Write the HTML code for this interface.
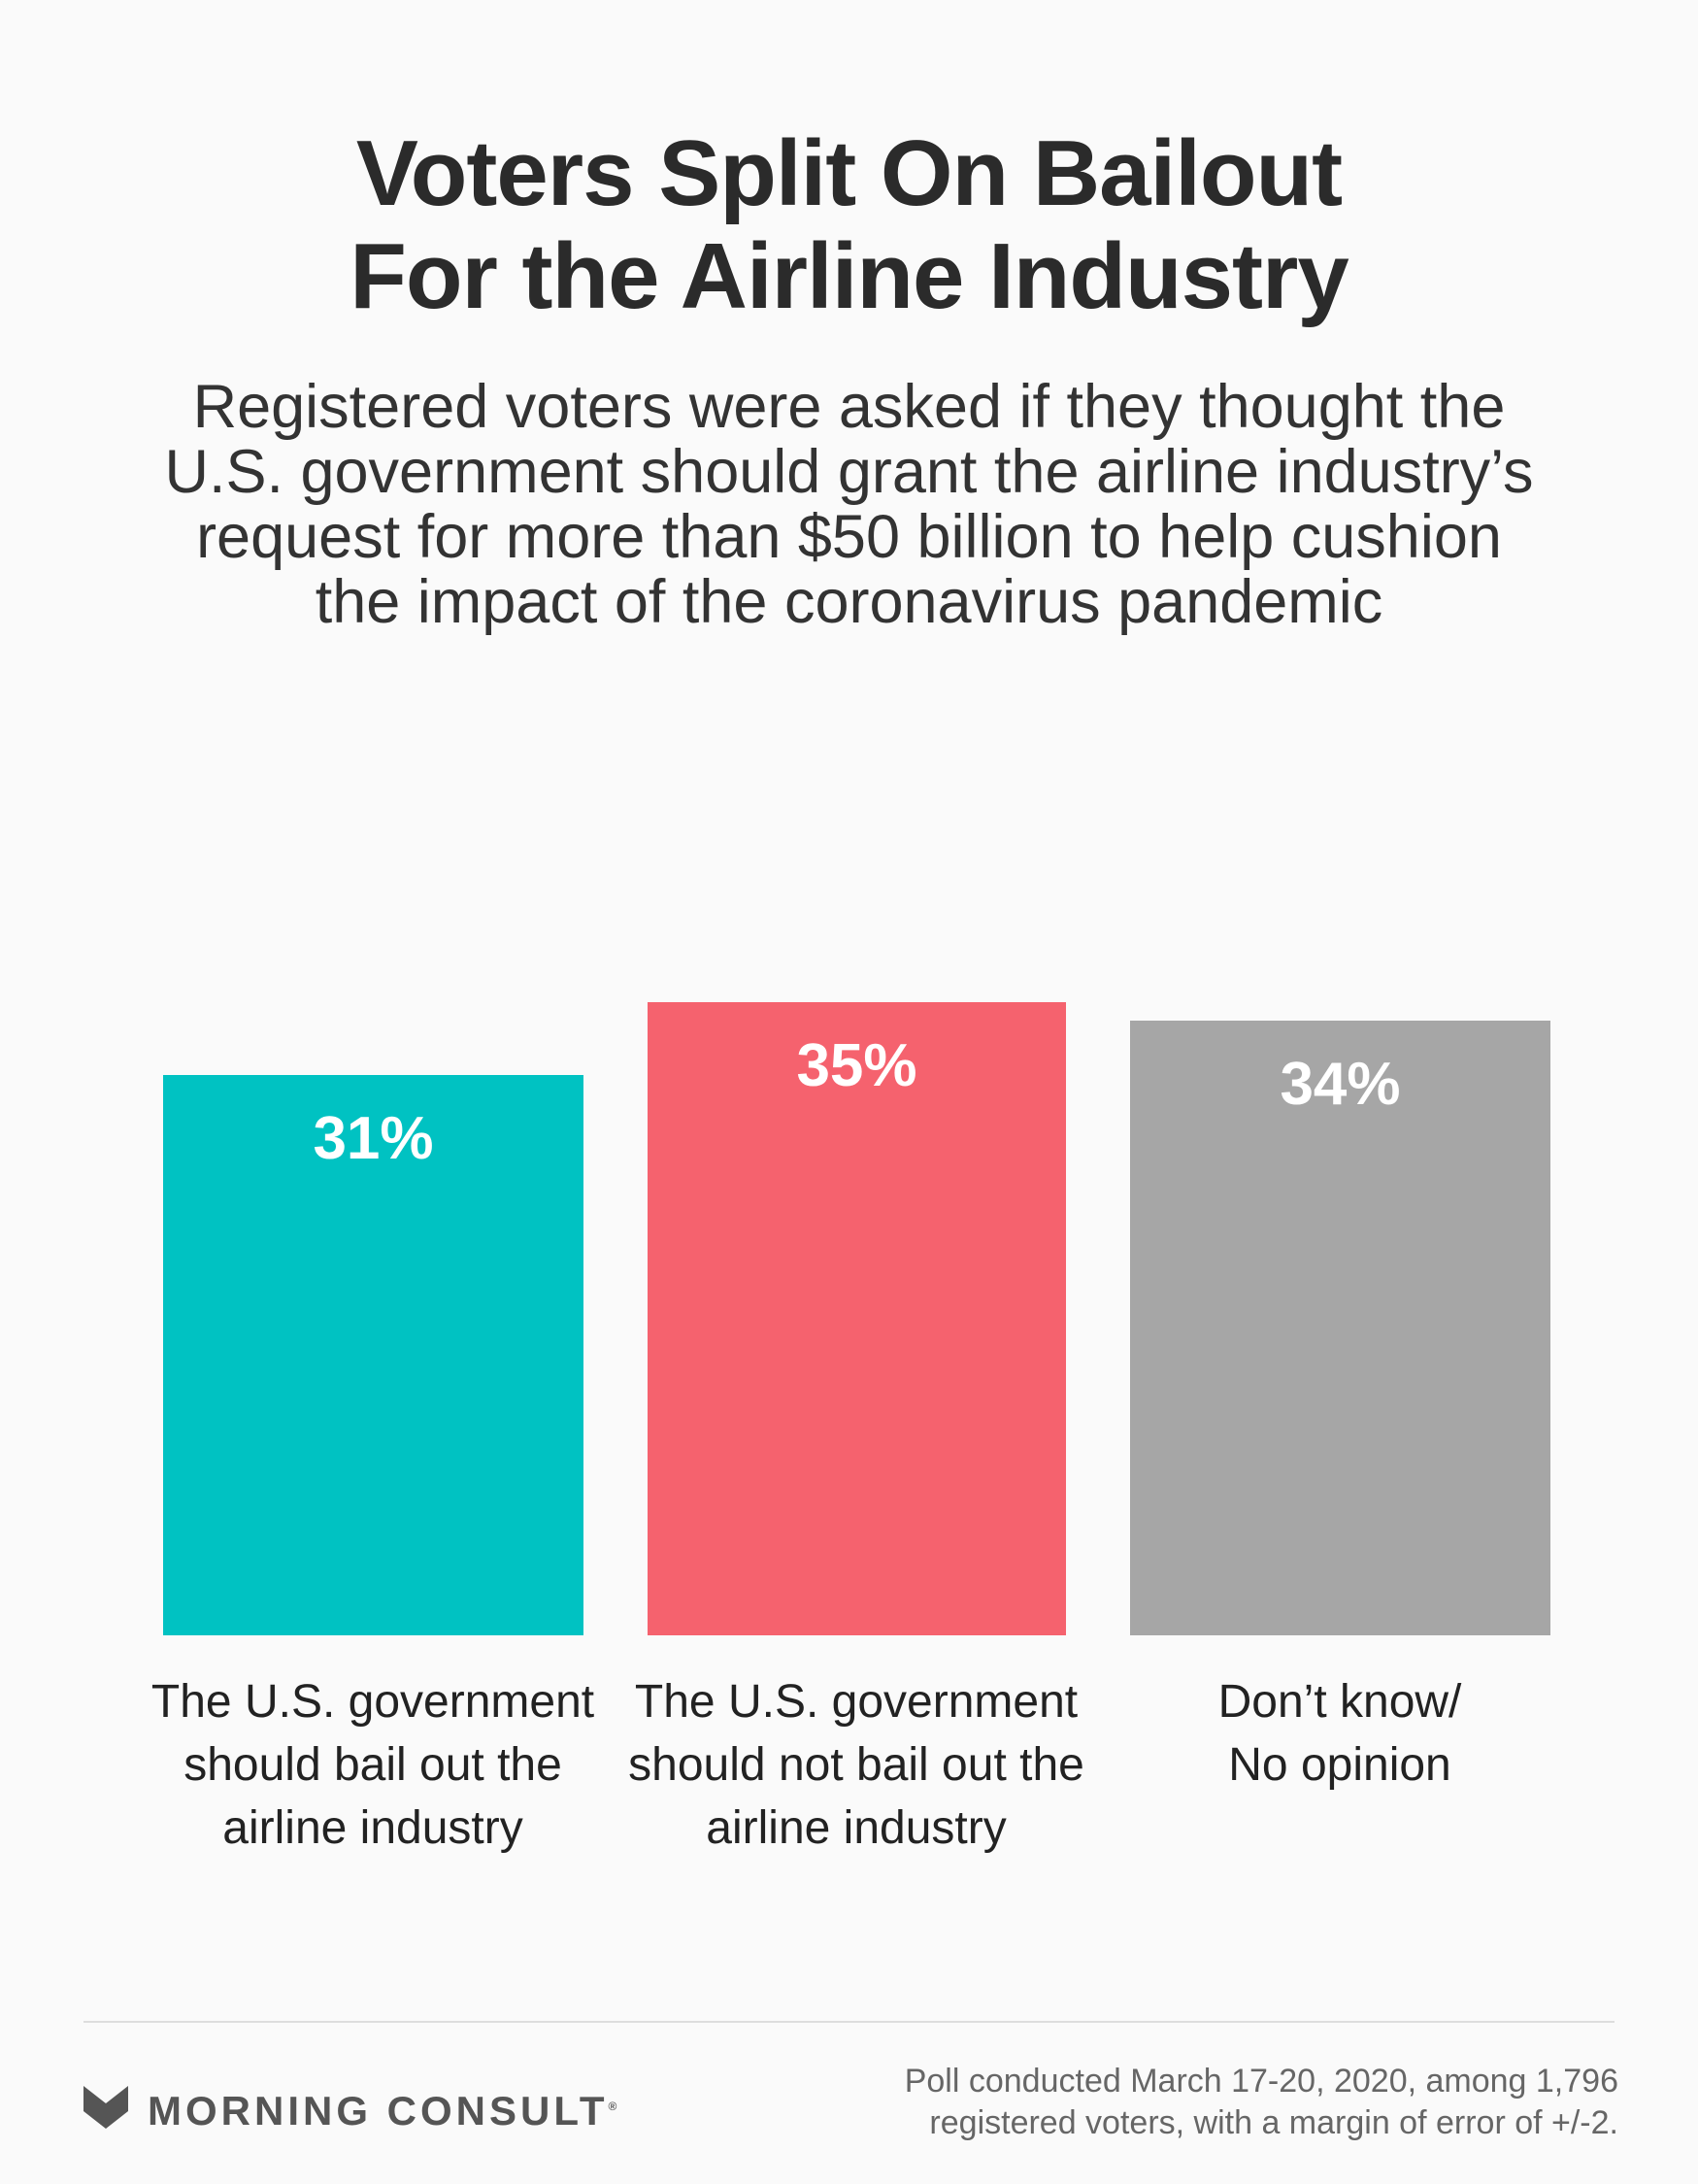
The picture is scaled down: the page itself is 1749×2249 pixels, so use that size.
<!DOCTYPE html>
<html><head><meta charset="utf-8"><style>
body{margin:0;width:1749px;height:2249px;background:#fafafa;position:relative;font-family:"Liberation Sans",sans-serif;color:#2b2b2b;overflow:hidden}
.a{position:absolute}
.t{left:0;width:1749px;text-align:center;font-weight:bold;font-size:96px;line-height:106px;top:126px;letter-spacing:-1px}
.s{left:0;width:1749px;text-align:center;font-size:63px;line-height:67px;top:386px;color:#333}
.bar{position:absolute}
.p{position:absolute;color:#fff;font-weight:bold;font-size:62px;text-align:center;width:100%;top:30px}
.c{position:absolute;top:1720px;width:500px;text-align:center;font-size:48px;line-height:65px;color:#222}
</style></head><body>
<div class="a t">Voters Split On Bailout<br>For the Airline Industry</div>
<div class="a s">Registered voters were asked if they thought the<br>U.S. government should grant the airline industry’s<br>request for more than $50 billion to help cushion<br>the impact of the coronavirus pandemic</div>
<div class="bar" style="left:168px;top:1107px;width:433px;height:577px;background:#00c2c2"><div class="p">31%</div></div>
<div class="bar" style="left:667px;top:1032px;width:431px;height:652px;background:#f5626e"><div class="p">35%</div></div>
<div class="bar" style="left:1164px;top:1051px;width:433px;height:633px;background:#a6a6a6"><div class="p">34%</div></div>
<div class="c" style="left:134px">The U.S. government<br>should bail out the<br>airline industry</div>
<div class="c" style="left:632px">The U.S. government<br>should not bail out the<br>airline industry</div>
<div class="c" style="left:1130px">Don’t know/<br>No opinion</div>
<div class="a" style="left:86px;top:2081px;width:1577px;height:2px;background:#ddd"></div>
<svg class="a" style="left:86px;top:2148px" width="46" height="44" viewBox="0 0 46 44"><path d="M0 0 L23 18 L46 0 L46 26 L23 44 L0 26 Z" fill="#555"/></svg>
<div class="a" style="left:152px;top:2144px;font-size:42px;font-weight:bold;letter-spacing:4px;color:#555;line-height:50px">MORNING CONSULT<sup style="font-size:12px">®</sup></div>
<div class="a" style="right:82px;top:2122px;text-align:right;font-size:34px;line-height:43px;color:#666">Poll conducted March 17-20, 2020, among 1,796<br>registered voters, with a margin of error of +/-2.</div>
</body></html>
